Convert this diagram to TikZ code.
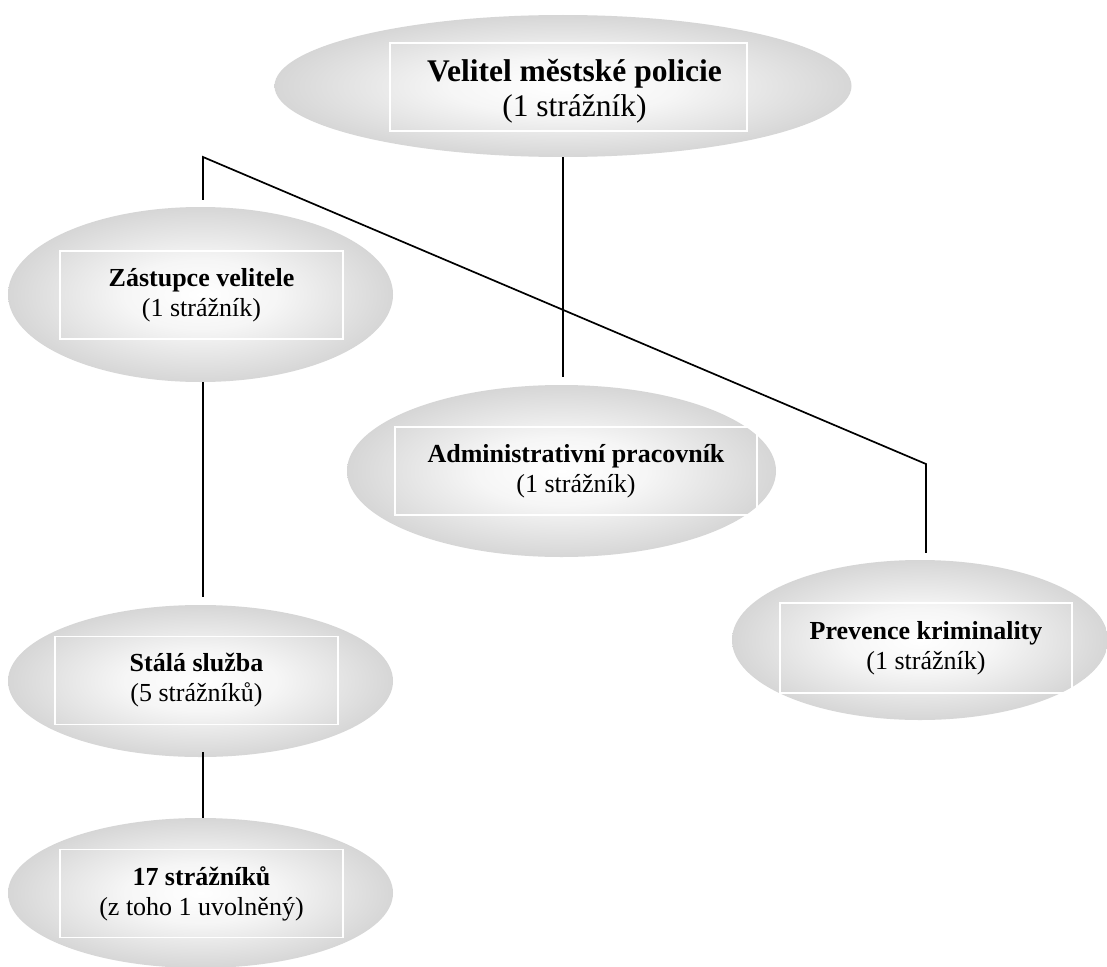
\documentclass[tikz,border=0pt]{standalone}
\usepackage{fontspec}
\setmainfont{Liberation Serif}
\usetikzlibrary{shapes.geometric,calc}
\definecolor{gg}{RGB}{192,192,192}
\pgfdeclareradialshading{ellshade}{\pgfpoint{0bp}{0bp}}{color(0bp)=(white); color(10bp)=(white!85!gg); color(25bp)=(white!35!gg); color(37bp)=(gg); color(50bp)=(gg)}
\tikzset{
  ell/.style={ellipse, draw=none, shading=ellshade, inner sep=0pt},
  boxn/.style={draw=white, line width=1.5pt, inner sep=0pt, align=center, minimum height=88pt, font=\fontsize{26}{30}\selectfont},
  txt/.style={inner sep=0pt, align=center},
  conn/.style={draw=black, line width=1.7pt}
}
\begin{document}
\begin{tikzpicture}[x=1pt,y=-1pt]
\useasboundingbox[fill=white] (0,0) rectangle (1107,966);
% ellipses
\node[ell, minimum width=577pt, minimum height=142pt] (vel) at (563,86) {};
\node[ell, minimum width=385pt, minimum height=175pt] (zas) at (200.5,294.5) {};
\node[ell, minimum width=429pt, minimum height=172pt] (adm) at (561.5,471) {};
\node[ell, minimum width=385pt, minimum height=152pt] (sta) at (200.5,681) {};
\node[ell, minimum width=385pt, minimum height=150pt] (s17) at (200.5,893) {};
\node[ell, minimum width=376pt, minimum height=160pt] (prev) at (920,640) {};
% boxes
\node[boxn, minimum width=357pt] (velb) at (568.5,87) {};
\node[txt, font=\fontsize{31.5}{35}\selectfont] (velt) at ($(velb.center)+(6,4)$) {\textbf{Velitel městské policie}\\(1 strážník)};
\node[boxn, minimum width=283pt] (zasb) at (201.5,295) {\textbf{Zástupce velitele}\\(1 strážník)};
\node[boxn, minimum width=362pt] (admb) at (576,471) {\textbf{Administrativní pracovník}\\(1 strážník)};
\node[boxn, minimum width=283pt] (stab) at (196.5,680.5) {\textbf{Stálá služba}\\(5 strážníků)};
\node[boxn, minimum width=283pt] (s17b) at (201.5,893.5) {\textbf{17 strážníků}\\(z toho 1 uvolněný)};
\node[boxn, minimum width=292pt, minimum height=90pt] (prevb) at (926,648) {\textbf{Prevence kriminality}\\(1 strážník)};
% connectors
\coordinate (j) at (203,157);
\coordinate (k) at (926,464);
\draw[conn] (vel.south) -- ($(vel.south |- adm.north)+(0,-8)$);
\draw[conn] ($(j |- zas.north)+(0,-7)$) -- (j) -- (k) -- ($(k |- prev.north)+(0,-7)$);
\draw[conn] (j |- zas.south) -- ($(j |- sta.north)+(0,-8)$);
\draw[conn] ($(j |- sta.south)+(0,-5)$) -- (j |- s17.north);
\end{tikzpicture}
\end{document}
